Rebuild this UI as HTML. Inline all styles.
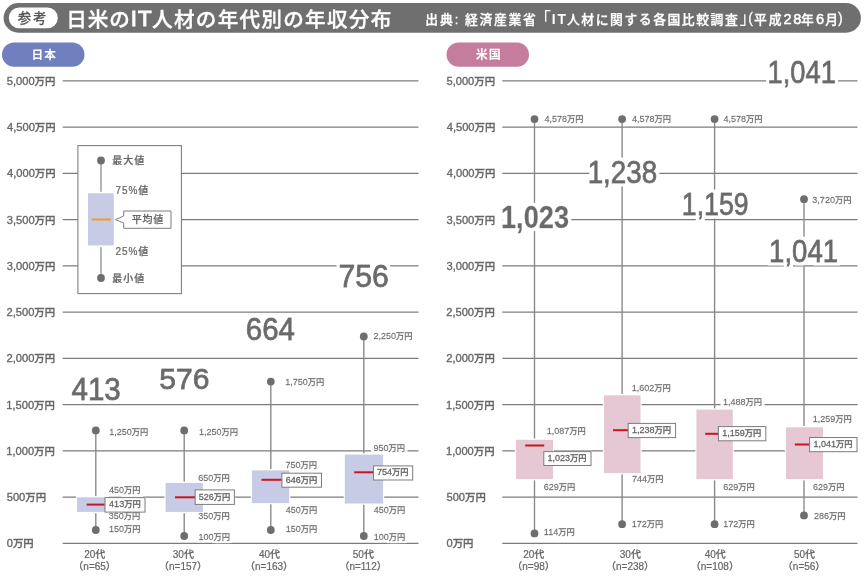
<!DOCTYPE html>
<html lang="ja"><head><meta charset="utf-8"><title>日米のIT人材の年代別の年収分布</title>
<style>html,body{margin:0;padding:0;background:#fff}body{width:865px;height:576px;overflow:hidden;font-family:"Liberation Sans", "Noto Sans CJK JP", sans-serif}svg{display:block;font-family:"Liberation Sans", "Noto Sans CJK JP", sans-serif}text{white-space:pre}</style>
</head><body>
<svg width="865" height="576" viewBox="0 0 865 576" role="img" aria-label="日米のIT人材の年代別の年収分布">
<rect width="865" height="576" fill="#fff"/>
<defs>
<filter id="halo4" x="-15%" y="-40%" width="130%" height="180%"><feMorphology in="SourceAlpha" operator="dilate" radius="2.0" result="d"/><feFlood flood-color="#fff"/><feComposite in2="d" operator="in" result="h"/><feMerge><feMergeNode in="h"/><feMergeNode in="SourceGraphic"/></feMerge></filter>
<filter id="halo5" x="-15%" y="-40%" width="130%" height="180%"><feMorphology in="SourceAlpha" operator="dilate" radius="2.5" result="d"/><feFlood flood-color="#fff"/><feComposite in2="d" operator="in" result="h"/><feMerge><feMergeNode in="h"/><feMergeNode in="SourceGraphic"/></feMerge></filter>
<filter id="halo6" x="-15%" y="-40%" width="130%" height="180%"><feMorphology in="SourceAlpha" operator="dilate" radius="3.0" result="d"/><feFlood flood-color="#fff"/><feComposite in2="d" operator="in" result="h"/><feMerge><feMergeNode in="h"/><feMergeNode in="SourceGraphic"/></feMerge></filter>
</defs>
<g>
<rect x="3.6" y="3.1" width="857.3" height="29.6" rx="14.8" ry="14.8" fill="#6f6f6f"/>
<rect x="8.8" y="7.5" width="49" height="20.8" rx="10.4" ry="10.4" fill="#fff"/>
<text transform="translate(17.70,23.32)" font-size="13.5" font-weight="500" letter-spacing="1.9" fill="#585858" stroke="#585858" stroke-width="0.2">参考</text>
<rect x="2" y="42.5" width="82.5" height="24.3" rx="12.15" fill="#7080bf"/>
<text transform="translate(31.62,59.30)" font-size="11.7" font-weight="700" letter-spacing="1" fill="#fff">日本</text>
<rect x="446.5" y="42.5" width="82.5" height="24.3" rx="12.15" fill="#c47d9c"/>
<text transform="translate(475.75,59.42)" font-size="12" font-weight="700" letter-spacing="1" fill="#fff">米国</text>
</g>
<g>
<text><tspan x="66.25" y="26.88" font-size="20.6" font-weight="500" fill="#fff" letter-spacing="0.89" stroke="#fff" stroke-width="0.35">日米の</tspan><tspan x="130.80" y="26.12" font-size="22.3" font-weight="400" fill="#fff" letter-spacing="0.95" stroke="#fff" stroke-width="1.0">IT</tspan><tspan x="152.10" y="26.88" font-size="20.6" font-weight="500" fill="#fff" letter-spacing="1.26" stroke="#fff" stroke-width="0.35">人材の年代別の年収分布</tspan></text>
<text><tspan x="425.25" y="23.98" font-size="12.8" font-weight="500" fill="#fff" letter-spacing="1.99" stroke="#fff" stroke-width="0.3">出典:</tspan><tspan x="465.00" y="23.98" font-size="12.8" font-weight="500" fill="#fff" letter-spacing="1.69" stroke="#fff" stroke-width="0.3">経済産業省</tspan><tspan x="533.90" y="24.85" font-size="17" font-weight="400" fill="#fff">「</tspan><tspan x="551.70" y="23.75" font-size="13.8" font-weight="700" fill="#fff" letter-spacing="2.0">IT</tspan><tspan x="566.95" y="23.98" font-size="12.8" font-weight="500" fill="#fff" letter-spacing="1.57" stroke="#fff" stroke-width="0.3">人材に関する各国比較調査</tspan><tspan x="739.60" y="24.10" font-size="17" font-weight="400" fill="#fff">」</tspan><tspan x="748.15" y="22.93" font-size="14" font-weight="400" fill="#fff" stroke="#fff" stroke-width="0.3">(</tspan><tspan x="754.10" y="23.98" font-size="12.8" font-weight="500" fill="#fff" letter-spacing="1.9" stroke="#fff" stroke-width="0.3">平成</tspan><tspan x="783.50" y="23.93" font-size="14.6" font-weight="400" fill="#fff" letter-spacing="1.75" stroke="#fff" stroke-width="0.5">28</tspan><tspan x="801.00" y="23.98" font-size="12.8" font-weight="500" fill="#fff" stroke="#fff" stroke-width="0.3">年</tspan><tspan x="816.10" y="23.93" font-size="14.6" font-weight="400" fill="#fff" stroke="#fff" stroke-width="0.5">6</tspan><tspan x="825.25" y="23.60" font-size="12.8" font-weight="500" fill="#fff" stroke="#fff" stroke-width="0.3">月</tspan><tspan x="838.00" y="22.93" font-size="14" font-weight="400" fill="#fff" stroke="#fff" stroke-width="0.3">)</tspan></text>
</g>
<g>
<line x1="62.7" y1="543.40" x2="418.5" y2="543.40" stroke="#7c7c7c" stroke-width="1.3"/>
<text transform="translate(6.75,547.33)" font-size="10.7" font-weight="500" fill="#666666" stroke="#666666" stroke-width="0.34"><tspan font-size="11.13">0</tspan><tspan font-size="10.38">万円</tspan></text>
<line x1="62.7" y1="497.15" x2="418.5" y2="497.15" stroke="#7c7c7c" stroke-width="1.3"/>
<text transform="translate(6.75,501.08)" font-size="10.7" font-weight="500" fill="#666666" stroke="#666666" stroke-width="0.34"><tspan font-size="11.13">500</tspan><tspan font-size="10.38">万円</tspan></text>
<line x1="62.7" y1="450.91" x2="418.5" y2="450.91" stroke="#7c7c7c" stroke-width="1.3"/>
<text transform="translate(6.25,454.84)" font-size="10.7" font-weight="500" fill="#666666" stroke="#666666" stroke-width="0.34"><tspan font-size="11.13">1,000</tspan><tspan font-size="10.38">万円</tspan></text>
<line x1="62.7" y1="404.66" x2="418.5" y2="404.66" stroke="#7c7c7c" stroke-width="1.3"/>
<text transform="translate(6.25,408.59)" font-size="10.7" font-weight="500" fill="#666666" stroke="#666666" stroke-width="0.34"><tspan font-size="11.13">1,500</tspan><tspan font-size="10.38">万円</tspan></text>
<line x1="62.7" y1="358.41" x2="418.5" y2="358.41" stroke="#7c7c7c" stroke-width="1.3"/>
<text transform="translate(6.50,362.34)" font-size="10.7" font-weight="500" fill="#666666" stroke="#666666" stroke-width="0.34"><tspan font-size="11.13">2,000</tspan><tspan font-size="10.38">万円</tspan></text>
<line x1="62.7" y1="312.16" x2="418.5" y2="312.16" stroke="#7c7c7c" stroke-width="1.3"/>
<text transform="translate(6.50,316.10)" font-size="10.7" font-weight="500" fill="#666666" stroke="#666666" stroke-width="0.34"><tspan font-size="11.13">2,500</tspan><tspan font-size="10.38">万円</tspan></text>
<line x1="62.7" y1="265.92" x2="418.5" y2="265.92" stroke="#7c7c7c" stroke-width="1.3"/>
<text transform="translate(6.75,269.85)" font-size="10.7" font-weight="500" fill="#666666" stroke="#666666" stroke-width="0.34"><tspan font-size="11.13">3,000</tspan><tspan font-size="10.38">万円</tspan></text>
<line x1="62.7" y1="219.67" x2="418.5" y2="219.67" stroke="#7c7c7c" stroke-width="1.3"/>
<text transform="translate(6.75,223.60)" font-size="10.7" font-weight="500" fill="#666666" stroke="#666666" stroke-width="0.34"><tspan font-size="11.13">3,500</tspan><tspan font-size="10.38">万円</tspan></text>
<line x1="62.7" y1="173.42" x2="418.5" y2="173.42" stroke="#7c7c7c" stroke-width="1.3"/>
<text transform="translate(7.00,177.35)" font-size="10.7" font-weight="500" fill="#666666" stroke="#666666" stroke-width="0.34"><tspan font-size="11.13">4,000</tspan><tspan font-size="10.38">万円</tspan></text>
<line x1="62.7" y1="127.18" x2="418.5" y2="127.18" stroke="#7c7c7c" stroke-width="1.3"/>
<text transform="translate(7.00,131.11)" font-size="10.7" font-weight="500" fill="#666666" stroke="#666666" stroke-width="0.34"><tspan font-size="11.13">4,500</tspan><tspan font-size="10.38">万円</tspan></text>
<line x1="62.7" y1="80.93" x2="418.5" y2="80.93" stroke="#7c7c7c" stroke-width="1.3"/>
<text transform="translate(6.75,84.86)" font-size="10.7" font-weight="500" fill="#666666" stroke="#666666" stroke-width="0.34"><tspan font-size="11.13">5,000</tspan><tspan font-size="10.38">万円</tspan></text>
<line x1="502.3" y1="543.40" x2="857.5" y2="543.40" stroke="#7c7c7c" stroke-width="1.3"/>
<text transform="translate(446.45,547.33)" font-size="10.7" font-weight="500" fill="#666666" stroke="#666666" stroke-width="0.34"><tspan font-size="11.13">0</tspan><tspan font-size="10.38">万円</tspan></text>
<line x1="502.3" y1="497.15" x2="857.5" y2="497.15" stroke="#7c7c7c" stroke-width="1.3"/>
<text transform="translate(446.45,501.08)" font-size="10.7" font-weight="500" fill="#666666" stroke="#666666" stroke-width="0.34"><tspan font-size="11.13">500</tspan><tspan font-size="10.38">万円</tspan></text>
<line x1="502.3" y1="450.91" x2="857.5" y2="450.91" stroke="#7c7c7c" stroke-width="1.3"/>
<text transform="translate(445.95,454.84)" font-size="10.7" font-weight="500" fill="#666666" stroke="#666666" stroke-width="0.34"><tspan font-size="11.13">1,000</tspan><tspan font-size="10.38">万円</tspan></text>
<line x1="502.3" y1="404.66" x2="857.5" y2="404.66" stroke="#7c7c7c" stroke-width="1.3"/>
<text transform="translate(445.95,408.59)" font-size="10.7" font-weight="500" fill="#666666" stroke="#666666" stroke-width="0.34"><tspan font-size="11.13">1,500</tspan><tspan font-size="10.38">万円</tspan></text>
<line x1="502.3" y1="358.41" x2="857.5" y2="358.41" stroke="#7c7c7c" stroke-width="1.3"/>
<text transform="translate(446.20,362.34)" font-size="10.7" font-weight="500" fill="#666666" stroke="#666666" stroke-width="0.34"><tspan font-size="11.13">2,000</tspan><tspan font-size="10.38">万円</tspan></text>
<line x1="502.3" y1="312.16" x2="857.5" y2="312.16" stroke="#7c7c7c" stroke-width="1.3"/>
<text transform="translate(446.20,316.10)" font-size="10.7" font-weight="500" fill="#666666" stroke="#666666" stroke-width="0.34"><tspan font-size="11.13">2,500</tspan><tspan font-size="10.38">万円</tspan></text>
<line x1="502.3" y1="265.92" x2="857.5" y2="265.92" stroke="#7c7c7c" stroke-width="1.3"/>
<text transform="translate(446.45,269.85)" font-size="10.7" font-weight="500" fill="#666666" stroke="#666666" stroke-width="0.34"><tspan font-size="11.13">3,000</tspan><tspan font-size="10.38">万円</tspan></text>
<line x1="502.3" y1="219.67" x2="857.5" y2="219.67" stroke="#7c7c7c" stroke-width="1.3"/>
<text transform="translate(446.45,223.60)" font-size="10.7" font-weight="500" fill="#666666" stroke="#666666" stroke-width="0.34"><tspan font-size="11.13">3,500</tspan><tspan font-size="10.38">万円</tspan></text>
<line x1="502.3" y1="173.42" x2="857.5" y2="173.42" stroke="#7c7c7c" stroke-width="1.3"/>
<text transform="translate(446.70,177.35)" font-size="10.7" font-weight="500" fill="#666666" stroke="#666666" stroke-width="0.34"><tspan font-size="11.13">4,000</tspan><tspan font-size="10.38">万円</tspan></text>
<line x1="502.3" y1="127.18" x2="857.5" y2="127.18" stroke="#7c7c7c" stroke-width="1.3"/>
<text transform="translate(446.70,131.11)" font-size="10.7" font-weight="500" fill="#666666" stroke="#666666" stroke-width="0.34"><tspan font-size="11.13">4,500</tspan><tspan font-size="10.38">万円</tspan></text>
<line x1="502.3" y1="80.93" x2="857.5" y2="80.93" stroke="#7c7c7c" stroke-width="1.3"/>
<text transform="translate(446.45,84.86)" font-size="10.7" font-weight="500" fill="#666666" stroke="#666666" stroke-width="0.34"><tspan font-size="11.13">5,000</tspan><tspan font-size="10.38">万円</tspan></text>
</g>
<g>
<line x1="95.8" y1="430.4" x2="95.8" y2="530" stroke="#868686" stroke-width="1.35"/>
<line x1="184.2" y1="430.4" x2="184.2" y2="536" stroke="#868686" stroke-width="1.35"/>
<line x1="270.8" y1="381.6" x2="270.8" y2="530" stroke="#868686" stroke-width="1.35"/>
<line x1="363.8" y1="336.4" x2="363.8" y2="536" stroke="#868686" stroke-width="1.35"/>
<line x1="534.5" y1="119.1" x2="534.5" y2="533.4" stroke="#868686" stroke-width="1.35"/>
<line x1="622.1" y1="119.1" x2="622.1" y2="524.2" stroke="#868686" stroke-width="1.35"/>
<line x1="714.6" y1="119.1" x2="714.6" y2="524.2" stroke="#868686" stroke-width="1.35"/>
<line x1="804" y1="199.2" x2="804" y2="515.4" stroke="#868686" stroke-width="1.35"/>
</g>
<g>
<rect x="75.90" y="496.00" width="33.20" height="17.20" fill="#fff"/>
<rect x="104.8" y="496.8" width="41.00" height="15.60" fill="#fff"/>
<rect x="164.50" y="481.60" width="39.50" height="31.60" fill="#fff"/>
<rect x="195" y="489.1" width="40.20" height="15.60" fill="#fff"/>
<rect x="250.80" y="469.10" width="39.50" height="35.30" fill="#fff"/>
<rect x="281.7" y="472.4" width="40.60" height="15.10" fill="#fff"/>
<rect x="343.70" y="453.30" width="40.50" height="51.50" fill="#fff"/>
<rect x="373.3" y="465.1" width="40.20" height="15.20" fill="#fff"/>
<rect x="514.90" y="438.50" width="39.20" height="41.90" fill="#fff"/>
<rect x="543.6" y="450.8" width="48.20" height="15.00" fill="#fff"/>
<rect x="602.90" y="394.00" width="38.70" height="80.40" fill="#fff"/>
<rect x="628" y="422.6" width="48.40" height="15.30" fill="#fff"/>
<rect x="695.30" y="408.30" width="38.60" height="72.10" fill="#fff"/>
<rect x="718.2" y="425.8" width="48.40" height="15.30" fill="#fff"/>
<rect x="784.90" y="426.00" width="39.20" height="54.40" fill="#fff"/>
<rect x="809.4" y="436.7" width="48.40" height="15.30" fill="#fff"/>
</g>
<g>
<text transform="translate(109.30,434.68)" font-size="8.6" font-weight="500" filter="url(#halo4)" fill="#666666" stroke="#666666" stroke-width="0.28"><tspan font-size="9.03">1,250</tspan><tspan font-size="8.26">万円</tspan></text>
<text transform="translate(108.90,532.18)" font-size="8.6" font-weight="500" filter="url(#halo4)" fill="#666666" stroke="#666666" stroke-width="0.28"><tspan font-size="9.03">150</tspan><tspan font-size="8.26">万円</tspan></text>
<text transform="translate(109.00,493.48)" font-size="8.6" font-weight="500" filter="url(#halo5)" fill="#666666" stroke="#666666" stroke-width="0.28"><tspan font-size="9.03">450</tspan><tspan font-size="8.26">万円</tspan></text>
<text transform="translate(108.75,519.38)" font-size="8.6" font-weight="500" filter="url(#halo5)" fill="#666666" stroke="#666666" stroke-width="0.28"><tspan font-size="9.03">350</tspan><tspan font-size="8.26">万円</tspan></text>
<text transform="translate(198.90,434.68)" font-size="8.6" font-weight="500" filter="url(#halo4)" fill="#666666" stroke="#666666" stroke-width="0.28"><tspan font-size="9.03">1,250</tspan><tspan font-size="8.26">万円</tspan></text>
<text transform="translate(198.40,539.68)" font-size="8.6" font-weight="500" filter="url(#halo4)" fill="#666666" stroke="#666666" stroke-width="0.28"><tspan font-size="9.03">100</tspan><tspan font-size="8.26">万円</tspan></text>
<text transform="translate(198.25,481.38)" font-size="8.6" font-weight="500" filter="url(#halo5)" fill="#666666" stroke="#666666" stroke-width="0.28"><tspan font-size="9.03">650</tspan><tspan font-size="8.26">万円</tspan></text>
<text transform="translate(198.25,519.38)" font-size="8.6" font-weight="500" filter="url(#halo5)" fill="#666666" stroke="#666666" stroke-width="0.28"><tspan font-size="9.03">350</tspan><tspan font-size="8.26">万円</tspan></text>
<text transform="translate(285.20,384.68)" font-size="8.6" font-weight="500" filter="url(#halo4)" fill="#666666" stroke="#666666" stroke-width="0.28"><tspan font-size="9.03">1,750</tspan><tspan font-size="8.26">万円</tspan></text>
<text transform="translate(285.70,532.38)" font-size="8.6" font-weight="500" filter="url(#halo4)" fill="#666666" stroke="#666666" stroke-width="0.28"><tspan font-size="9.03">150</tspan><tspan font-size="8.26">万円</tspan></text>
<text transform="translate(285.55,467.88)" font-size="8.6" font-weight="500" filter="url(#halo5)" fill="#666666" stroke="#666666" stroke-width="0.28"><tspan font-size="9.03">750</tspan><tspan font-size="8.26">万円</tspan></text>
<text transform="translate(285.80,513.28)" font-size="8.6" font-weight="500" filter="url(#halo5)" fill="#666666" stroke="#666666" stroke-width="0.28"><tspan font-size="9.03">450</tspan><tspan font-size="8.26">万円</tspan></text>
<text transform="translate(373.45,339.48)" font-size="8.6" font-weight="500" filter="url(#halo4)" fill="#666666" stroke="#666666" stroke-width="0.28"><tspan font-size="9.03">2,250</tspan><tspan font-size="8.26">万円</tspan></text>
<text transform="translate(373.70,539.68)" font-size="8.6" font-weight="500" filter="url(#halo4)" fill="#666666" stroke="#666666" stroke-width="0.28"><tspan font-size="9.03">100</tspan><tspan font-size="8.26">万円</tspan></text>
<text transform="translate(373.55,451.38)" font-size="8.6" font-weight="500" filter="url(#halo5)" fill="#666666" stroke="#666666" stroke-width="0.28"><tspan font-size="9.03">950</tspan><tspan font-size="8.26">万円</tspan></text>
<text transform="translate(373.80,513.28)" font-size="8.6" font-weight="500" filter="url(#halo5)" fill="#666666" stroke="#666666" stroke-width="0.28"><tspan font-size="9.03">450</tspan><tspan font-size="8.26">万円</tspan></text>
<text transform="translate(544.40,122.48)" font-size="8.6" font-weight="500" filter="url(#halo4)" fill="#666666" stroke="#666666" stroke-width="0.28"><tspan font-size="9.03">4,578</tspan><tspan font-size="8.26">万円</tspan></text>
<text transform="translate(543.80,535.38)" font-size="8.6" font-weight="500" filter="url(#halo4)" fill="#666666" stroke="#666666" stroke-width="0.28"><tspan font-size="9.03">114</tspan><tspan font-size="8.26">万円</tspan></text>
<text transform="translate(546.80,434.38)" font-size="8.6" font-weight="500" filter="url(#halo5)" fill="#666666" stroke="#666666" stroke-width="0.28"><tspan font-size="9.03">1,087</tspan><tspan font-size="8.26">万円</tspan></text>
<text transform="translate(543.75,490.08)" font-size="8.6" font-weight="500" filter="url(#halo5)" fill="#666666" stroke="#666666" stroke-width="0.28"><tspan font-size="9.03">629</tspan><tspan font-size="8.26">万円</tspan></text>
<text transform="translate(632.00,122.48)" font-size="8.6" font-weight="500" filter="url(#halo4)" fill="#666666" stroke="#666666" stroke-width="0.28"><tspan font-size="9.03">4,578</tspan><tspan font-size="8.26">万円</tspan></text>
<text transform="translate(631.80,527.08)" font-size="8.6" font-weight="500" filter="url(#halo4)" fill="#666666" stroke="#666666" stroke-width="0.28"><tspan font-size="9.03">172</tspan><tspan font-size="8.26">万円</tspan></text>
<text transform="translate(631.70,390.88)" font-size="8.6" font-weight="500" filter="url(#halo5)" fill="#666666" stroke="#666666" stroke-width="0.28"><tspan font-size="9.03">1,602</tspan><tspan font-size="8.26">万円</tspan></text>
<text transform="translate(631.95,481.78)" font-size="8.6" font-weight="500" filter="url(#halo5)" fill="#666666" stroke="#666666" stroke-width="0.28"><tspan font-size="9.03">744</tspan><tspan font-size="8.26">万円</tspan></text>
<text transform="translate(723.50,122.48)" font-size="8.6" font-weight="500" filter="url(#halo4)" fill="#666666" stroke="#666666" stroke-width="0.28"><tspan font-size="9.03">4,578</tspan><tspan font-size="8.26">万円</tspan></text>
<text transform="translate(723.20,527.08)" font-size="8.6" font-weight="500" filter="url(#halo4)" fill="#666666" stroke="#666666" stroke-width="0.28"><tspan font-size="9.03">172</tspan><tspan font-size="8.26">万円</tspan></text>
<text transform="translate(722.90,404.68)" font-size="8.6" font-weight="500" filter="url(#halo5)" fill="#666666" stroke="#666666" stroke-width="0.28"><tspan font-size="9.03">1,488</tspan><tspan font-size="8.26">万円</tspan></text>
<text transform="translate(723.15,490.08)" font-size="8.6" font-weight="500" filter="url(#halo5)" fill="#666666" stroke="#666666" stroke-width="0.28"><tspan font-size="9.03">629</tspan><tspan font-size="8.26">万円</tspan></text>
<text transform="translate(812.35,202.58)" font-size="8.6" font-weight="500" filter="url(#halo4)" fill="#666666" stroke="#666666" stroke-width="0.28"><tspan font-size="9.03">3,720</tspan><tspan font-size="8.26">万円</tspan></text>
<text transform="translate(813.95,518.78)" font-size="8.6" font-weight="500" filter="url(#halo4)" fill="#666666" stroke="#666666" stroke-width="0.28"><tspan font-size="9.03">286</tspan><tspan font-size="8.26">万円</tspan></text>
<text transform="translate(812.80,422.38)" font-size="8.6" font-weight="500" filter="url(#halo5)" fill="#666666" stroke="#666666" stroke-width="0.28"><tspan font-size="9.03">1,259</tspan><tspan font-size="8.26">万円</tspan></text>
<text transform="translate(813.05,490.08)" font-size="8.6" font-weight="500" filter="url(#halo5)" fill="#666666" stroke="#666666" stroke-width="0.28"><tspan font-size="9.03">629</tspan><tspan font-size="8.26">万円</tspan></text>
</g>
<g>
<rect x="77" y="497.3" width="31.00" height="14.60" fill="#c7cbe5"/>
<rect x="165.6" y="482.9" width="37.30" height="29.00" fill="#c7cbe5"/>
<rect x="251.9" y="470.4" width="37.30" height="32.70" fill="#c7cbe5"/>
<rect x="344.8" y="454.6" width="38.30" height="48.90" fill="#c7cbe5"/>
<rect x="516" y="439.8" width="37.00" height="39.30" fill="#e6c8d4"/>
<rect x="604" y="395.3" width="36.50" height="77.80" fill="#e6c8d4"/>
<rect x="696.4" y="409.6" width="36.40" height="69.50" fill="#e6c8d4"/>
<rect x="786" y="427.3" width="37.00" height="51.80" fill="#e6c8d4"/>
</g>
<g>
<line x1="86.7" y1="504.6" x2="104.8" y2="504.6" stroke="#c8161e" stroke-width="2"/>
<line x1="175" y1="497.3" x2="195" y2="497.3" stroke="#c8161e" stroke-width="2"/>
<line x1="261.5" y1="479.8" x2="281.7" y2="479.8" stroke="#c8161e" stroke-width="2"/>
<line x1="354.2" y1="472.3" x2="373.3" y2="472.3" stroke="#c8161e" stroke-width="2"/>
<line x1="525.2" y1="445.5" x2="544.2" y2="445.5" stroke="#c8161e" stroke-width="2"/>
<line x1="613" y1="430.2" x2="628" y2="430.2" stroke="#c8161e" stroke-width="2"/>
<line x1="705.2" y1="433.8" x2="718.2" y2="433.8" stroke="#c8161e" stroke-width="2"/>
<line x1="794.8" y1="444.5" x2="809.4" y2="444.5" stroke="#c8161e" stroke-width="2"/>
</g>
<g>
<rect x="105.00" y="497.60" width="40.00" height="14.50" fill="#fff" stroke="#7c7c7c" stroke-width="1"/>
<text transform="translate(109.10,507.38)" font-size="8.6" font-weight="500" fill="#666666" stroke="#666666" stroke-width="0.28"><tspan font-size="9.03">413</tspan><tspan font-size="8.26">万円</tspan></text>
<rect x="195.20" y="489.90" width="39.20" height="14.50" fill="#fff" stroke="#7c7c7c" stroke-width="1"/>
<text transform="translate(198.78,499.68)" font-size="8.6" font-weight="500" fill="#666666" stroke="#666666" stroke-width="0.28"><tspan font-size="9.03">526</tspan><tspan font-size="8.26">万円</tspan></text>
<rect x="281.90" y="473.20" width="39.60" height="14.00" fill="#fff" stroke="#7c7c7c" stroke-width="1"/>
<text transform="translate(285.68,482.73)" font-size="8.6" font-weight="500" fill="#666666" stroke="#666666" stroke-width="0.28"><tspan font-size="9.03">646</tspan><tspan font-size="8.26">万円</tspan></text>
<rect x="373.50" y="465.90" width="39.20" height="14.10" fill="#fff" stroke="#7c7c7c" stroke-width="1"/>
<text transform="translate(377.07,475.48)" font-size="8.6" font-weight="500" fill="#666666" stroke="#666666" stroke-width="0.28"><tspan font-size="9.03">754</tspan><tspan font-size="8.26">万円</tspan></text>
<rect x="543.80" y="451.60" width="47.20" height="13.90" fill="#fff" stroke="#7c7c7c" stroke-width="1"/>
<text transform="translate(547.50,461.08)" font-size="8.6" font-weight="500" fill="#666666" stroke="#666666" stroke-width="0.28"><tspan font-size="9.03">1,023</tspan><tspan font-size="8.26">万円</tspan></text>
<rect x="628.20" y="423.40" width="47.40" height="14.20" fill="#fff" stroke="#7c7c7c" stroke-width="1"/>
<text transform="translate(632.00,433.03)" font-size="8.6" font-weight="500" fill="#666666" stroke="#666666" stroke-width="0.28"><tspan font-size="9.03">1,238</tspan><tspan font-size="8.26">万円</tspan></text>
<rect x="718.40" y="426.60" width="47.40" height="14.20" fill="#fff" stroke="#7c7c7c" stroke-width="1"/>
<text transform="translate(722.20,436.23)" font-size="8.6" font-weight="500" fill="#666666" stroke="#666666" stroke-width="0.28"><tspan font-size="9.03">1,159</tspan><tspan font-size="8.26">万円</tspan></text>
<rect x="809.60" y="437.50" width="47.40" height="14.20" fill="#fff" stroke="#7c7c7c" stroke-width="1"/>
<text transform="translate(813.40,447.13)" font-size="8.6" font-weight="500" fill="#666666" stroke="#666666" stroke-width="0.28"><tspan font-size="9.03">1,041</tspan><tspan font-size="8.26">万円</tspan></text>
</g>
<g>
<rect x="71.7" y="377.8" width="48.3" height="22.2" fill="#fff"/>
<text transform="translate(71.45,399.80) scale(0.954,1)" font-size="31.0" font-weight="400" filter="url(#halo6)" fill="#6a6a6a" stroke="#6a6a6a" stroke-width="0.9">413</text>
<rect x="160.0" y="367.2" width="48.6" height="21.8" fill="#fff"/>
<text transform="translate(159.25,388.95) scale(0.993,1)" font-size="30.4" font-weight="400" filter="url(#halo6)" fill="#6a6a6a" stroke="#6a6a6a" stroke-width="0.9">576</text>
<rect x="246.8" y="318.5" width="47.8" height="21.9" fill="#fff"/>
<text transform="translate(245.80,340.25) scale(0.964,1)" font-size="30.6" font-weight="400" filter="url(#halo6)" fill="#6a6a6a" stroke="#6a6a6a" stroke-width="0.9">664</text>
<rect x="339.4" y="264.0" width="48.4" height="22.7" fill="#fff"/>
<text transform="translate(338.40,286.50) scale(0.953,1)" font-size="31.7" font-weight="400" filter="url(#halo6)" fill="#6a6a6a" stroke="#6a6a6a" stroke-width="0.9">756</text>
<rect x="502.5" y="206.1" width="65.6" height="22.8" fill="#fff"/>
<text transform="translate(501.00,228.35) scale(0.855,1)" font-size="31.8" font-weight="700" filter="url(#halo6)" fill="#6a6a6a" stroke="#6a6a6a" stroke-width="0.3">1,023</text>
<rect x="589.4" y="160.6" width="66.9" height="22.5" fill="#fff"/>
<text transform="translate(587.65,182.85) scale(0.886,1)" font-size="31.4" font-weight="400" filter="url(#halo6)" fill="#6a6a6a" stroke="#6a6a6a" stroke-width="0.9">1,238</text>
<rect x="683.6" y="192.5" width="64.1" height="22.8" fill="#fff"/>
<text transform="translate(681.85,215.00) scale(0.838,1)" font-size="31.8" font-weight="400" filter="url(#halo6)" fill="#6a6a6a" stroke="#6a6a6a" stroke-width="0.9">1,159</text>
<rect x="770.8" y="239.4" width="66.4" height="22.8" fill="#fff"/>
<text transform="translate(769.05,261.90) scale(0.868,1)" font-size="31.8" font-weight="400" filter="url(#halo6)" fill="#6a6a6a" stroke="#6a6a6a" stroke-width="0.9">1,041</text>
<rect x="769.3" y="60.0" width="65.7" height="23.0" fill="#fff"/>
<text transform="translate(767.55,82.75) scale(0.851,1)" font-size="32.1" font-weight="400" filter="url(#halo6)" fill="#6a6a6a" stroke="#6a6a6a" stroke-width="0.9">1,041</text>
</g>
<g>
<circle cx="95.8" cy="430.4" r="3.9" fill="#6e6e6e"/>
<circle cx="95.8" cy="530" r="3.9" fill="#6e6e6e"/>
<circle cx="184.2" cy="430.4" r="3.9" fill="#6e6e6e"/>
<circle cx="184.2" cy="536" r="3.9" fill="#6e6e6e"/>
<circle cx="270.8" cy="381.6" r="3.9" fill="#6e6e6e"/>
<circle cx="270.8" cy="530" r="3.9" fill="#6e6e6e"/>
<circle cx="363.8" cy="336.4" r="3.9" fill="#6e6e6e"/>
<circle cx="363.8" cy="536" r="3.9" fill="#6e6e6e"/>
<circle cx="534.5" cy="119.1" r="3.9" fill="#6e6e6e"/>
<circle cx="534.5" cy="533.4" r="3.9" fill="#6e6e6e"/>
<circle cx="622.1" cy="119.1" r="3.9" fill="#6e6e6e"/>
<circle cx="622.1" cy="524.2" r="3.9" fill="#6e6e6e"/>
<circle cx="714.6" cy="119.1" r="3.9" fill="#6e6e6e"/>
<circle cx="714.6" cy="524.2" r="3.9" fill="#6e6e6e"/>
<circle cx="804" cy="199.2" r="3.9" fill="#6e6e6e"/>
<circle cx="804" cy="515.4" r="3.9" fill="#6e6e6e"/>
</g>
<g>
<text transform="translate(84.25,557.75)" font-size="10" font-weight="500" fill="#666666" stroke="#666666" stroke-width="0.2">20代</text>
<text transform="translate(73.35,569.67)" font-size="10" font-weight="500" fill="#666666" stroke="#666666" stroke-width="0.2">（n=65）</text>
<text transform="translate(172.78,557.75)" font-size="10" font-weight="500" fill="#666666" stroke="#666666" stroke-width="0.2">30代</text>
<text transform="translate(159.00,569.67)" font-size="10" font-weight="500" fill="#666666" stroke="#666666" stroke-width="0.2">（n=157）</text>
<text transform="translate(258.90,557.75)" font-size="10" font-weight="500" fill="#666666" stroke="#666666" stroke-width="0.2">40代</text>
<text transform="translate(245.00,569.67)" font-size="10" font-weight="500" fill="#666666" stroke="#666666" stroke-width="0.2">（n=163）</text>
<text transform="translate(352.77,557.75)" font-size="10" font-weight="500" fill="#666666" stroke="#666666" stroke-width="0.2">50代</text>
<text transform="translate(339.38,569.67)" font-size="10" font-weight="500" fill="#666666" stroke="#666666" stroke-width="0.2">（n=112）</text>
<text transform="translate(523.15,557.75)" font-size="10" font-weight="500" fill="#666666" stroke="#666666" stroke-width="0.2">20代</text>
<text transform="translate(512.25,569.67)" font-size="10" font-weight="500" fill="#666666" stroke="#666666" stroke-width="0.2">（n=98）</text>
<text transform="translate(619.77,557.75)" font-size="10" font-weight="500" fill="#666666" stroke="#666666" stroke-width="0.2">30代</text>
<text transform="translate(606.00,569.67)" font-size="10" font-weight="500" fill="#666666" stroke="#666666" stroke-width="0.2">（n=238）</text>
<text transform="translate(704.70,557.75)" font-size="10" font-weight="500" fill="#666666" stroke="#666666" stroke-width="0.2">40代</text>
<text transform="translate(690.80,569.67)" font-size="10" font-weight="500" fill="#666666" stroke="#666666" stroke-width="0.2">（n=108）</text>
<text transform="translate(793.88,557.75)" font-size="10" font-weight="500" fill="#666666" stroke="#666666" stroke-width="0.2">50代</text>
<text transform="translate(782.85,569.67)" font-size="10" font-weight="500" fill="#666666" stroke="#666666" stroke-width="0.2">（n=56）</text>
</g>
<g>
<rect x="77.9" y="145.6" width="103.5" height="148" fill="#fff" stroke="#808080" stroke-width="1.1"/>
<line x1="101" y1="160.5" x2="101" y2="278" stroke="#858585" stroke-width="1.2"/>
<rect x="86.5" y="191.8" width="29" height="55.3" fill="#fff"/>
<rect x="88" y="193.3" width="25.8" height="52.1" fill="#c7cbe5"/>
<line x1="91.5" y1="219.5" x2="110.8" y2="219.5" stroke="#f0a01e" stroke-width="2"/>
<circle cx="101" cy="160.5" r="3.9" fill="#6e6e6e"/>
<circle cx="101" cy="278" r="3.9" fill="#6e6e6e"/>
<text transform="translate(112.25,164.45)" font-size="10" font-weight="500" letter-spacing="1.0" fill="#666666" stroke="#666666" stroke-width="0.22">最大値</text>
<text transform="translate(115.50,193.95)" font-size="10" font-weight="500" letter-spacing="0.92" fill="#666666" stroke="#666666" stroke-width="0.22">75%値</text>
<text transform="translate(115.50,254.55)" font-size="10" font-weight="500" letter-spacing="0.92" fill="#666666" stroke="#666666" stroke-width="0.22">25%値</text>
<text transform="translate(112.25,281.95)" font-size="10" font-weight="500" letter-spacing="1.0" fill="#666666" stroke="#666666" stroke-width="0.22">最小値</text>
<path d="M123.7 211 H171 V228.3 H123.7 V223 L115.5 219.6 L123.7 216 Z" fill="#fff" stroke="#7c7c7c" stroke-width="1"/>
<text transform="translate(131.75,223.35)" font-size="10" font-weight="500" letter-spacing="0.75" fill="#666666" stroke="#666666" stroke-width="0.22">平均値</text>
</g>
</svg>
</body></html>
